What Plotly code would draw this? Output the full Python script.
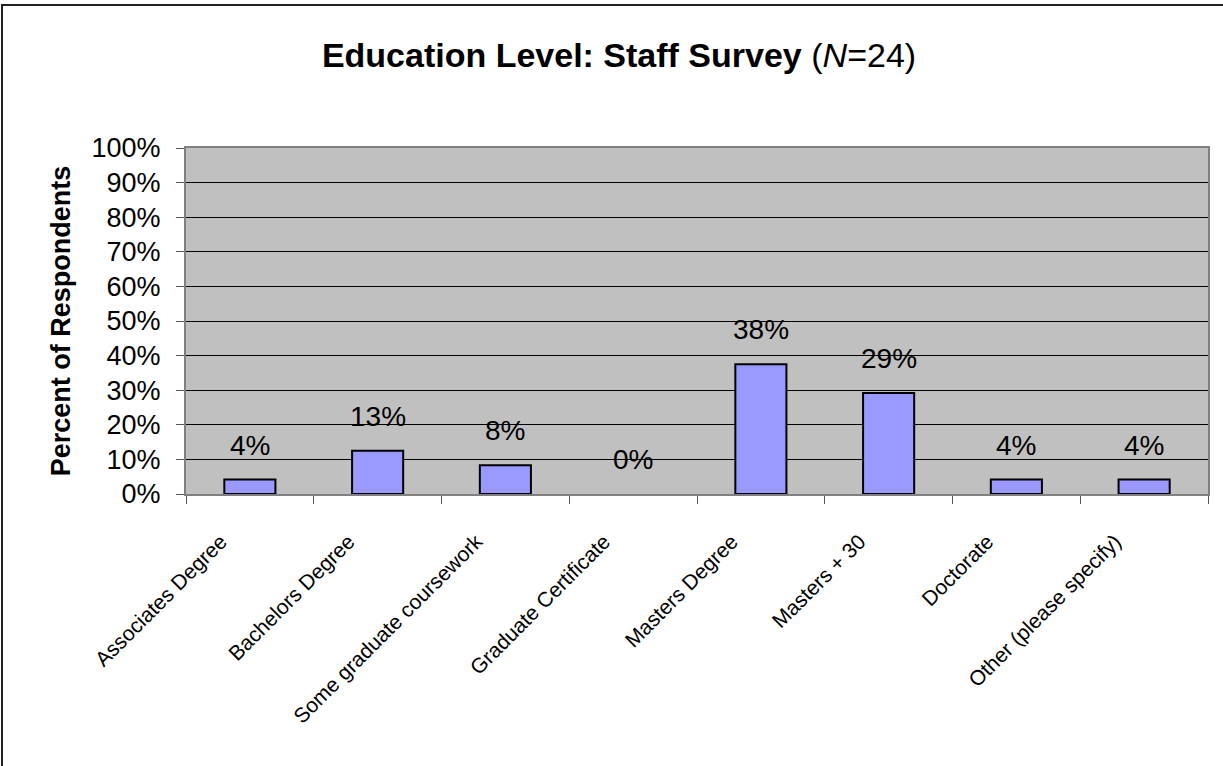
import plotly.graph_objects as go

categories = ["Associates Degree", "Bachelors Degree", "Some graduate coursework",
              "Graduate Certificate", "Masters Degree", "Masters + 30", "Doctorate",
              "Other (please specify)"]
percent_values = [4.17, 12.5, 8.33, 0.0, 37.5, 29.17, 4.17, 4.17]
value_labels = ["4%", "13%", "8%", "0%", "38%", "29%", "4%", "4%"]
y_ticks = [0, 10, 20, 30, 40, 50, 60, 70, 80, 90, 100]
y_tick_labels = ["0%", "10%", "20%", "30%", "40%", "50%", "60%", "70%", "80%", "90%", "100%"]

W, H = 1223, 766
L, R, T, B = 186, 15, 148, 272
pw, ph = W - L - R, H - T - B

fig = go.Figure()
fig.add_trace(go.Bar(
    x=categories, y=percent_values,
    marker=dict(color="#9999FF",
                line=dict(color="black", width=[2 if v > 0 else 0 for v in percent_values])),
    width=0.4, showlegend=False, hoverinfo="skip",
))

for c, v, t in zip(categories, percent_values, value_labels):
    fig.add_annotation(x=c, y=v, text=t, showarrow=False, yanchor="bottom",
                       yshift=17, font=dict(family="Liberation Sans, Arial", size=28, color="black"))

def px2x(p):
    return (p - L) / pw

def py2y(p):
    return (H - B - p) / ph

fig.add_shape(type="line", xref="paper", yref="paper", x0=px2x(2), x1=px2x(2),
              y0=py2y(5), y1=py2y(800), line=dict(color="#222", width=2))
fig.add_shape(type="line", xref="paper", yref="paper", x0=px2x(1), x1=px2x(1300),
              y0=py2y(5), y1=py2y(5), line=dict(color="#222", width=2))

fig.update_layout(
    width=W, height=H,
    margin=dict(l=L, r=R, t=T, b=B, autoexpand=False),
    paper_bgcolor="white", plot_bgcolor="#C0C0C0",
    title=dict(text="<b>Education Level: Staff Survey</b> (<i>N</i>=24)",
               x=619 / W, xanchor="center", y=1 - 55 / H, yanchor="middle",
               font=dict(family="Liberation Sans, Arial", size=34, color="black")),
    bargap=0.6,
)
fig.update_xaxes(
    type="category", tickangle=-45, tickson="boundaries", ticks="outside", ticklen=8,
    tickcolor="#555", showline=True, linecolor="#808080", linewidth=2, mirror=True,
    showgrid=False, ticklabelstandoff=25, ticklabelshift=-29,
    tickfont=dict(family="Liberation Sans, Arial", size=21, color="black"),
)
fig.update_yaxes(
    range=[0, 100], tickvals=y_ticks, ticktext=y_tick_labels, ticks="outside", ticklen=8,
    tickcolor="#555", showline=True, linecolor="#808080", linewidth=2, mirror=True,
    showgrid=True, gridcolor="black", gridwidth=1, zeroline=False,
    ticklabelstandoff=10,
    tickfont=dict(family="Liberation Sans, Arial", size=27, color="black"),
    title=dict(text="<b>Percent of Respondents</b>", standoff=13,
               font=dict(family="Liberation Sans, Arial", size=27, color="black")),
)

fig.write_html("out.html", config={"displayModeBar": False},
               post_script="document.body.style.margin='0px';document.body.style.overflow='hidden';")
